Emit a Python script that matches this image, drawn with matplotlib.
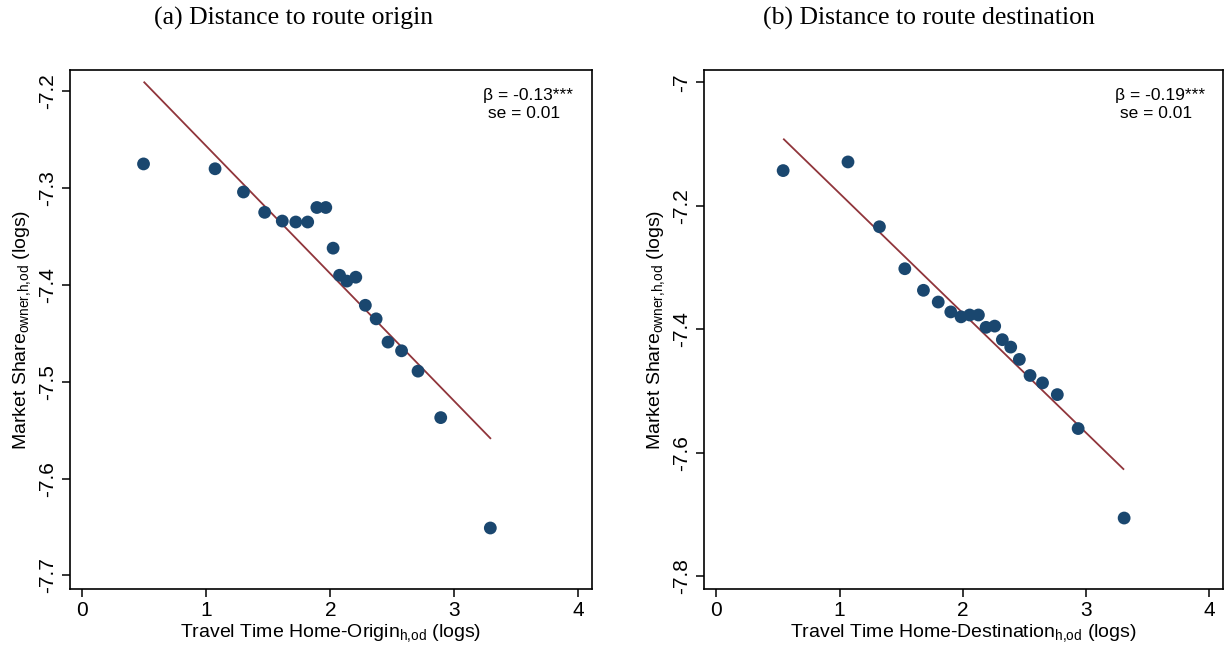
import matplotlib
matplotlib.use("Agg")
import matplotlib.pyplot as plt
import numpy as np

# ---- data ----
origin_x = [0.493, 1.070, 1.299, 1.470, 1.612, 1.721, 1.817, 1.891, 1.963, 2.022,
            2.074, 2.133, 2.205, 2.282, 2.369, 2.465, 2.574, 2.707, 2.890, 3.290]
origin_y = [-7.275, -7.280, -7.304, -7.325, -7.334, -7.335, -7.335, -7.320, -7.320, -7.362,
            -7.390, -7.396, -7.392, -7.421, -7.435, -7.459, -7.468, -7.489, -7.537, -7.651]
origin_fit = {"intercept": -7.125, "slope": -0.1317, "x_from": 0.499, "x_to": 3.290}
origin_text = ["β = -0.13***", " se = 0.01"]

dest_x = [0.542, 1.068, 1.323, 1.529, 1.680, 1.800, 1.902, 1.985, 2.055, 2.126,
          2.188, 2.258, 2.320, 2.388, 2.458, 2.545, 2.646, 2.766, 2.935, 3.308]
dest_y = [-7.143, -7.129, -7.234, -7.302, -7.337, -7.356, -7.372, -7.380, -7.377, -7.377,
          -7.397, -7.395, -7.417, -7.429, -7.449, -7.475, -7.487, -7.506, -7.561, -7.706]
dest_fit = {"intercept": -6.986, "slope": -0.194, "x_from": 0.548, "x_to": 3.302}
dest_text = ["β = -0.19***", " se = 0.01"]

titles = ["(a) Distance to route origin", "(b) Distance to route destination"]
xlabels = [r"Travel Time Home-Origin$_{\mathrm{h{,}od}}$ (logs)",
           r"Travel Time Home-Destination$_{\mathrm{h{,}od}}$ (logs)"]
ylabel = r"Market Share$_{\mathrm{owner{,}h{,}od}}$ (logs)"
xticks = [0, 1, 2, 3, 4]
yticks_a = [-7.2, -7.3, -7.4, -7.5, -7.6, -7.7]
ytlabels_a = ["-7.2", "-7.3", "-7.4", "-7.5", "-7.6", "-7.7"]
yticks_b = [-7.0, -7.2, -7.4, -7.6, -7.8]
ytlabels_b = ["-7", "-7.2", "-7.4", "-7.6", "-7.8"]

# ---- styling ----
plt.rcParams['font.family'] = ['Liberation Sans', 'DejaVu Sans']
plt.rcParams['mathtext.fontset'] = 'custom'
plt.rcParams['mathtext.rm'] = 'Liberation Sans'
plt.rcParams['mathtext.it'] = 'Liberation Sans:italic'
plt.rcParams['mathtext.bf'] = 'Liberation Sans:bold'

NAVY = "#1a476f"
MAROON = "#90353b"

fig = plt.figure(figsize=(12.25, 6.49), dpi=100)
ax1 = fig.add_axes([70/1225, 1-589/649, 522/1225, 519/649])
ax2 = fig.add_axes([704/1225, 1-589/649, 519/1225, 519/649])

panels = [
    (ax1, origin_x, origin_y, origin_fit, origin_text, yticks_a, ytlabels_a, (-7.178, -7.714), xlabels[0]),
    (ax2, dest_x, dest_y, dest_fit, dest_text, yticks_b, ytlabels_b, (-6.980, -7.821), xlabels[1]),
]

for ax, xs, ys, fit, txt, yt, ytl, ylim, xl in panels:
    fx = np.array([fit["x_from"], fit["x_to"]])
    ax.plot(fx, fit["intercept"] + fit["slope"] * fx, color=MAROON, lw=1.3, zorder=2)
    ax.scatter(xs, ys, s=85, color=NAVY, edgecolors='none', zorder=3)
    ax.set_xlim(-0.1, 4.11)
    ax.set_ylim(ylim[1], ylim[0])
    ax.set_xticks(xticks)
    ax.set_xticklabels([str(t) for t in xticks], fontsize=15)
    ax.set_yticks(yt)
    ax.set_yticklabels(ytl, fontsize=15, rotation=90, va='center')
    ax.tick_params(direction='out', length=6, width=1.1, pad=3)
    for sp in ax.spines.values():
        sp.set_linewidth(1.2)
    ax.set_xlabel(xl, fontsize=14, labelpad=1)
    ax.set_ylabel(ylabel, fontsize=14, labelpad=4)
    ax.text(0.792, 0.950, txt[0], transform=ax.transAxes, fontsize=12.5, va='center', ha='left')
    ax.text(0.792, 0.916, txt[1], transform=ax.transAxes, fontsize=12.5, va='center', ha='left')

fig.text(294/1225, 1-18/649, titles[0], fontsize=18.5, family='Liberation Serif', ha='center', va='center')
fig.text(929/1225, 1-18/649, titles[1], fontsize=18.5, family='Liberation Serif', ha='center', va='center')

fig.savefig("out.png", dpi=100)
